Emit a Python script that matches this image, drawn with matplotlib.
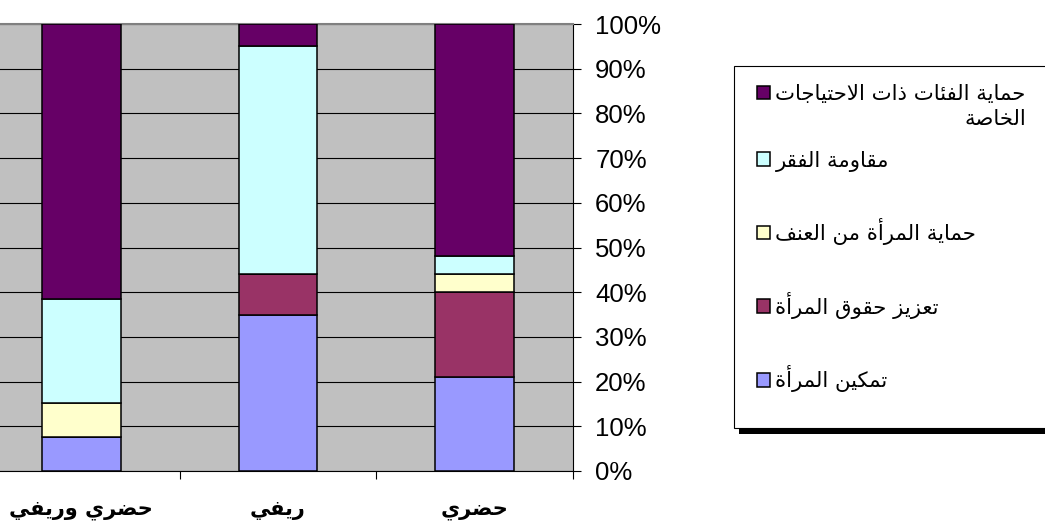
import matplotlib
matplotlib.use("Agg")
import matplotlib.pyplot as plt
import numpy as np
from matplotlib.patches import Rectangle

plt.rcParams['font.family'] = ['DejaVu Sans']

# data (percent of each column)
categories = ['حضري وريفي', 'ريفي', 'حضري']
series_names = ['تمكين المرأة', 'تعزيز حقوق المرأة', 'حماية المرأة من العنف',
                'مقاومة الفقر', 'حماية الفئات ذات الاحتياجات الخاصة']
empowerment = [7.5, 35, 21]
rights = [0, 9, 19]
violence = [7.7, 0, 4]
poverty = [23.2, 51, 4]
special_needs = [61.6, 5, 52]
yticks = [0, 10, 20, 30, 40, 50, 60, 70, 80, 90, 100]
ytick_labels = ['0%', '10%', '20%', '30%', '40%', '50%', '60%', '70%', '80%', '90%', '100%']

colors = ['#9999FF', '#993366', '#FFFFCC', '#CCFFFF', '#660066']

# matplotlib has no arabic shaping / bidi, so do a small one here
FORMS = {
    'ء': (0xFE80, 1), 'آ': (0xFE81, 2), 'أ': (0xFE83, 2), 'ؤ': (0xFE85, 2), 'إ': (0xFE87, 2),
    'ئ': (0xFE89, 4), 'ا': (0xFE8D, 2), 'ب': (0xFE8F, 4), 'ة': (0xFE93, 2), 'ت': (0xFE95, 4),
    'ث': (0xFE99, 4), 'ج': (0xFE9D, 4), 'ح': (0xFEA1, 4), 'خ': (0xFEA5, 4), 'د': (0xFEA9, 2),
    'ذ': (0xFEAB, 2), 'ر': (0xFEAD, 2), 'ز': (0xFEAF, 2), 'س': (0xFEB1, 4), 'ش': (0xFEB5, 4),
    'ص': (0xFEB9, 4), 'ض': (0xFEBD, 4), 'ط': (0xFEC1, 4), 'ظ': (0xFEC5, 4), 'ع': (0xFEC9, 4),
    'غ': (0xFECD, 4), 'ف': (0xFED1, 4), 'ق': (0xFED5, 4), 'ك': (0xFED9, 4), 'ل': (0xFEDD, 4),
    'م': (0xFEE1, 4), 'ن': (0xFEE5, 4), 'ه': (0xFEE9, 4), 'و': (0xFEED, 2), 'ى': (0xFEEF, 2),
    'ي': (0xFEF1, 4),
}
LAM_ALEF = {'آ': 0xFEF5, 'أ': 0xFEF7, 'إ': 0xFEF9, 'ا': 0xFEFB}


def shape(text):
    out = []
    i = 0
    n = len(text)
    while i < n:
        c = text[i]
        if c not in FORMS:
            out.append(c)
            i += 1
            continue
        prev = text[i - 1] if i > 0 else ''
        joins_prev = prev in FORMS and FORMS[prev][1] == 4
        if c == 'ل' and i + 1 < n and text[i + 1] in LAM_ALEF:
            out.append(chr(LAM_ALEF[text[i + 1]] + (1 if joins_prev else 0)))
            i += 2
            continue
        nxt = text[i + 1] if i + 1 < n else ''
        base, nforms = FORMS[c]
        joins_next = nforms == 4 and nxt in FORMS and nxt != 'ء'
        if nforms == 1:
            form = base
        elif joins_prev and joins_next:
            form = base + 3
        elif joins_prev:
            form = base + 1
        elif joins_next:
            form = base + 2
        else:
            form = base
        out.append(chr(form))
        i += 1
    return ''.join(reversed(out))


W, H = 1045, 526
fig = plt.figure(figsize=(W / 100, H / 100), dpi=100)
ax = fig.add_axes([-17 / W, 55 / H, 590 / W, 447 / H])
ax.set_facecolor('#C0C0C0')

x = np.arange(len(categories))
series = [empowerment, rights, violence, poverty, special_needs]
bottom = np.zeros(len(categories))
bars = []
for vals, col, name in zip(series, colors, series_names):
    b = ax.bar(x, vals, width=0.40, bottom=bottom, color=col, edgecolor='black',
               linewidth=1.1, zorder=3)
    bars.append(b)
    bottom += np.array(vals)

ax.set_xlim(-0.5, 2.5)
ax.set_ylim(0, 100)
ax.set_axisbelow(True)
ax.yaxis.grid(True, color='black', linewidth=0.8)

ax.yaxis.tick_right()
ax.set_yticks(yticks)
ax.set_yticklabels(ytick_labels, family='Liberation Sans', fontsize=18.5)
ax.tick_params(axis='y', direction='out', length=6, width=0.8, pad=10)

ax.set_xticks([0.5, 1.5, 2.5])
ax.set_xticklabels(['', '', ''])
ax.set_xticks(x, minor=True)
ax.set_xticklabels([shape(c) for c in categories], minor=True, fontsize=15, fontweight='bold')
ax.tick_params(axis='x', which='major', direction='out', length=6, width=0.8)
ax.tick_params(axis='x', which='minor', length=0, pad=21)

ax.spines['left'].set_visible(False)
ax.spines['top'].set_color('#808080')
ax.spines['top'].set_linewidth(1.5)
ax.spines['right'].set_linewidth(0.8)
ax.spines['bottom'].set_linewidth(0.8)

# legend frame with a hard black shadow (behind the axes and legend)
fx0, fy_top, fx1, fy_bot = 734, 66, 1060, 428
fig.patches.append(Rectangle(((fx0 + 5) / W, 1 - (fy_bot + 6) / H), (fx1 - fx0) / W,
                             (fy_bot - fy_top) / H, transform=fig.transFigure,
                             facecolor='black', edgecolor='none', zorder=-2))
fig.patches.append(Rectangle((fx0 / W, 1 - fy_bot / H), (fx1 - fx0) / W, (fy_bot - fy_top) / H,
                             transform=fig.transFigure, facecolor='white', edgecolor='black',
                             linewidth=0.8, zorder=-1))

first_line, second_line = 'حماية الفئات ذات الاحتياجات', 'الخاصة'
leg_labels = [shape(n) for n in series_names[:4]] + [shape(first_line)]
leg = ax.legend([bars[i] for i in range(4, -1, -1)], leg_labels[::-1],
                loc='upper left', bbox_to_anchor=(757 / W, 1 - 84 / H),
                bbox_transform=fig.transFigure, frameon=False, fontsize=15.3,
                handlelength=0.62, handleheight=0.62, handletextpad=0.25,
                labelspacing=2.19, borderpad=0, borderaxespad=0)

fig.canvas.draw()
bb = leg.get_texts()[0].get_window_extent()
fig.text(bb.x1 / W, (bb.y0 - 5) / H, shape(second_line), ha='right', va='top', fontsize=15.3)

plt.savefig('out.png', dpi=100)
